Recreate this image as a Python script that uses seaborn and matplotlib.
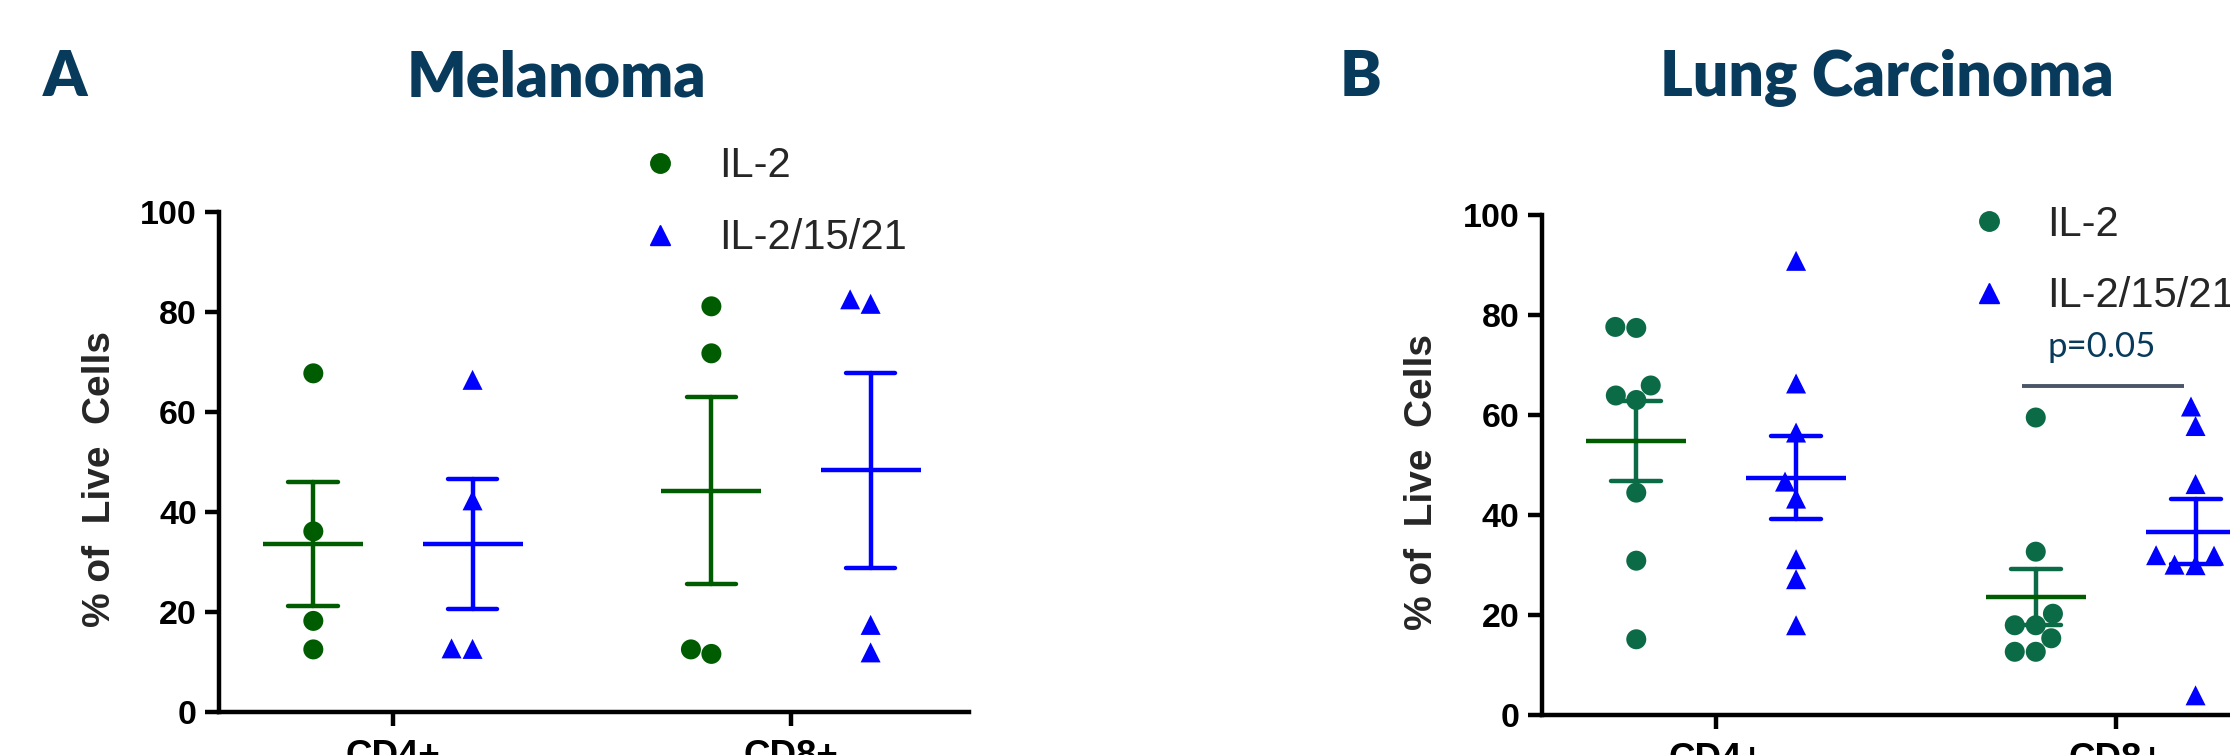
import numpy as np
import pandas as pd
import matplotlib
matplotlib.use("Agg")
import matplotlib.pyplot as plt
from matplotlib.lines import Line2D
import seaborn as sns

cells = ["CD4+", "CD8+"]
treatments = ["IL-2", "IL-2/15/21"]

# Melanoma (% of live cells, one value per donor)
mel_cd4_il2 = [67.8, 36.2, 18.3, 12.6]
mel_cd4_combo = [66.5, 42.4, 12.7, 12.8]
mel_cd8_il2 = [81.2, 71.8, 11.7, 12.6]
mel_cd8_combo = [82.6, 81.7, 17.5, 12.0]

# Lung carcinoma
lung_cd4_il2 = [77.6, 77.4, 65.9, 63.9, 63.0, 44.5, 30.9, 15.2]
lung_cd4_combo = [90.8, 66.3, 56.5, 46.7, 43.3, 31.2, 27.2, 18.0]
lung_cd8_il2 = [59.5, 32.7, 20.3, 18.0, 18.0, 15.4, 12.7, 12.7]
lung_cd8_combo = [61.7, 57.8, 46.2, 32.0, 31.9, 30.1, 30.0, 4.0]

navy = "#083a5c"
blue = "#0000ff"


def to_frame(cd4_il2, cd4_combo, cd8_il2, cd8_combo):
    rows = []
    groups = [("CD4+", "IL-2", cd4_il2), ("CD4+", "IL-2/15/21", cd4_combo),
              ("CD8+", "IL-2", cd8_il2), ("CD8+", "IL-2/15/21", cd8_combo)]
    for cell, treat, vals in groups:
        for v in vals:
            rows.append((cell, treat, v))
    return pd.DataFrame(rows, columns=["cell", "treatment", "pct"])


mel = to_frame(mel_cd4_il2, mel_cd4_combo, mel_cd8_il2, mel_cd8_combo)
lung = to_frame(lung_cd4_il2, lung_cd4_combo, lung_cd8_il2, lung_cd8_combo)

sns.set_theme(style="ticks")
plt.rcParams["font.family"] = ["Liberation Sans", "DejaVu Sans"]

fig = plt.figure(figsize=(22.3, 7.55), dpi=100)
ax_a = fig.add_axes([0.0982, 0.0564, 0.3363, 0.6624])
ax_b = fig.add_axes([0.6913, 0.0525, 0.3375, 0.6630])


def panel(ax, df, green, mean_green):
    pal = {"IL-2": green, "IL-2/15/21": blue}
    mean_pal = {"IL-2": mean_green, "IL-2/15/21": blue}
    for treat, mk in zip(treatments, ["o", "^"]):
        sns.swarmplot(data=df[df.treatment == treat], x="cell", y="pct",
                      hue="treatment", hue_order=treatments, order=cells,
                      palette=pal, dodge=True, marker=mk, size=14.4,
                      linewidth=0, legend=False, ax=ax)
    # SEM bars
    sns.pointplot(data=df, x="cell", y="pct", hue="treatment",
                  hue_order=treatments, order=cells, palette=pal,
                  dodge=0.4, errorbar="se", capsize=0.125, markers="",
                  markersize=0, linestyle="none",
                  err_kws={"linewidth": 3.2}, legend=False, ax=ax)
    # mean lines
    sns.pointplot(data=df, x="cell", y="pct", hue="treatment",
                  hue_order=treatments, order=cells, palette=mean_pal,
                  dodge=0.4, errorbar=None, markers="_", markersize=72,
                  markeredgewidth=3.2, linestyle="none", legend=False, ax=ax)

    ax.set_xlim(-0.437, 1.447)
    ax.set_ylim(0, 100)
    ax.set_yticks([0, 20, 40, 60, 80, 100])
    sns.despine(ax=ax)
    for s in ["left", "bottom"]:
        ax.spines[s].set_linewidth(3.2)
        ax.spines[s].set_color("black")
    ax.tick_params(axis="y", length=10, width=3.2, pad=6, labelsize=24.5, colors="black")
    ax.tick_params(axis="x", length=10, width=3.2, pad=9, labelsize=26.5, colors="black")
    for lab in ax.get_xticklabels() + ax.get_yticklabels():
        lab.set_fontweight("bold")
    ax.set_xlabel("")
    ax.set_ylabel("% of  Live  Cells", fontsize=28, fontweight="bold")
    ax.yaxis.set_label_coords(-0.135, 0.466)

    handles = [Line2D([], [], marker="o", color=green, linestyle="none", markersize=14),
               Line2D([], [], marker="^", color=blue, linestyle="none", markersize=14)]
    return handles


h_a = panel(ax_a, mel, "#005c00", "#005c00")
h_b = panel(ax_b, lung, "#0b6b47", "#005c00")

leg_kw = dict(frameon=False, fontsize=30, handlelength=1.0, handletextpad=0.9,
              labelspacing=0.76, borderpad=0, borderaxespad=0, loc="upper left",
              bbox_transform=fig.transFigure)
ax_a.legend(h_a, treatments, bbox_to_anchor=(0.2868, 0.806), **leg_kw)
ax_b.legend(h_b, treatments, bbox_to_anchor=(0.8827, 0.729), **leg_kw)

# significance bracket on lung CD8+
ax_b.hlines(65.8, 0.765, 1.172, color="#4a5568", linewidth=2.8, clip_on=False)
ax_b.text(0.965, 71.6, "p=0.05", ha="center", va="baseline", fontsize=25,
          color=navy, family=["Lato", "DejaVu Sans"])

title_kw = dict(fontsize=45, fontweight="heavy", color=navy, va="baseline",
                ha="center", family=["Lato", "DejaVu Sans"])
fig.text(0.0291, 0.8728, "A", **title_kw)
fig.text(0.2493, 0.8728, "Melanoma", **title_kw)
fig.text(0.6099, 0.8728, "B", **title_kw)
fig.text(0.8462, 0.8728, "Lung Carcinoma", **title_kw)

fig.savefig("out.png", dpi=100)
